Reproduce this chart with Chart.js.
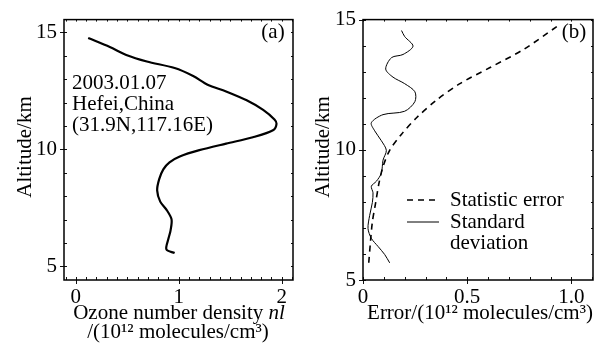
<!DOCTYPE html>
<html>
<head>
<meta charset="utf-8">
<script src="https://cdn.jsdelivr.net/npm/chart.js@4.4.1/dist/chart.umd.min.js"></script>
<style>
  html, body { margin: 0; padding: 0; background: #fff; }
  #wrap { position: relative; width: 601px; height: 343px; }
  canvas { position: absolute; top: 0; }
</style>
</head>
<body>
<div id="wrap">
  <canvas id="ca" width="300" height="343" style="left:0"></canvas>
  <canvas id="cb" width="301" height="343" style="left:300px"></canvas>
</div>
<script>
// ---------- Data ----------
// Panel (a): ozone number density profile
const altA  = [14.76, 14.38, 14.04, 13.76, 13.48, 13.14, 12.77, 12.48, 12.10, 11.69, 11.28, 11.10, 10.83, 10.52, 10.25, 9.97, 9.70, 9.45, 9.15, 8.73, 8.25, 7.77, 7.43, 7.01, 6.53, 6.19, 5.73, 5.57];
const ozone = [0.12, 0.33, 0.49, 0.69, 0.96, 1.14, 1.28, 1.46, 1.66, 1.82, 1.93, 1.95, 1.92, 1.72, 1.46, 1.20, 1.01, 0.91, 0.85, 0.81, 0.79, 0.82, 0.88, 0.93, 0.92, 0.90, 0.88, 0.96];

// Panel (b): statistic error
const altStat = [14.73, 13.85, 13.16, 12.54, 11.91, 11.23, 10.60, 9.98, 9.35, 8.73, 7.98, 7.23, 6.48, 5.60];
const statErr = [0.93, 0.77, 0.61, 0.465, 0.353, 0.257, 0.185, 0.128, 0.096, 0.077, 0.061, 0.045, 0.036, 0.027];

// Panel (b): standard deviation
const altStd = [14.58, 14.35, 13.98, 13.66, 13.54, 13.10, 12.79, 12.54, 12.23, 11.85, 11.48, 11.35, 11.04, 10.73, 10.35, 9.98, 9.60, 9.10, 8.79, 8.60, 8.35, 7.98, 7.48, 6.98, 6.60, 6.29, 5.98, 5.66];
const stdDev = [0.185, 0.20, 0.24, 0.192, 0.137, 0.109, 0.144, 0.20, 0.249, 0.249, 0.20, 0.096, 0.040, 0.056, 0.088, 0.112, 0.096, 0.088, 0.064, 0.040, 0.048, 0.045, 0.032, 0.024, 0.040, 0.072, 0.104, 0.128];

// Tick labels
const xTicksA = [0, 1, 2];
const yTicksA = [5, 10, 15];
const xTicksB = [0, 0.5, 1.0];
const yTicksB = [5, 10, 15];

// Texts
const annotA = ['2003.01.07', 'Hefei,China', '(31.9N,117.16E)'];
const legendLabels = ['Statistic error', 'Standard', 'deviation'];

// ---------- Helpers ----------
const FONT = "'Liberation Serif', 'Times New Roman', serif";
const FS = 21;
const toPts = (xs, ys) => xs.map((v, i) => ({ x: v, y: ys[i] }));

function range(a, b, s) { const r = []; for (let v = a; v <= b + 1e-9; v += s) r.push(+v.toFixed(4)); return r; }

function framePlugin(cfg) {
  return {
    id: 'frame',
    afterDatasetsDraw(chart) {
      const { ctx, chartArea: { left, right, top, bottom }, scales: { x, y } } = chart;
      ctx.save();
      ctx.strokeStyle = '#111';
      ctx.lineWidth = 1;
      ctx.beginPath();
      cfg.xMinor.forEach(v => {
        const p = Math.round(x.getPixelForValue(v)) + 0.5;
        if (p < left || p > right) return;
        ctx.moveTo(p, bottom); ctx.lineTo(p, bottom - 3);
        ctx.moveTo(p, top); ctx.lineTo(p, top + 2);
      });
      cfg.yMinor.forEach(v => {
        const p = Math.round(y.getPixelForValue(v)) + 0.5;
        if (p < top || p > bottom) return;
        ctx.moveTo(left, p); ctx.lineTo(left + 3, p);
        ctx.moveTo(right, p); ctx.lineTo(right - 2, p);
      });
      cfg.xMajor.forEach(v => {
        const p = Math.round(x.getPixelForValue(v)) + 0.5;
        ctx.moveTo(p, bottom - 3); ctx.lineTo(p, bottom + 4);
      });
      cfg.yMajor.forEach(v => {
        const p = Math.round(y.getPixelForValue(v)) + 0.5;
        ctx.moveTo(left - 4, p); ctx.lineTo(left + 3, p);
      });
      ctx.stroke();
      ctx.lineWidth = 1.5;
      ctx.strokeStyle = '#000';
      ctx.strokeRect(left, top, right - left, bottom - top);
      ctx.fillStyle = '#000';
      ctx.textBaseline = 'middle';
      cfg.draw(ctx, chart);
      ctx.restore();
    }
  };
}

function baseOptions(xmin, xmax, ymin, ymax, xt, yt, padRight, yWidth, xfmt) {
  return {
    responsive: false,
    animation: false,
    devicePixelRatio: 1,
    layout: { padding: { left: 0, right: padRight, top: 12, bottom: 0 } },
    plugins: { legend: { display: false }, tooltip: { enabled: false } },
    elements: { point: { radius: 0 } },
    scales: {
      x: {
        type: 'linear', min: xmin, max: xmax,
        grid: { display: false, drawTicks: false },
        border: { display: false },
        afterBuildTicks: s => { s.ticks = xt.map(v => ({ value: v })); },
        afterFit: s => { s.height = 63; },
        ticks: { padding: 5, color: '#000', font: { family: FONT, size: FS }, maxRotation: 0, autoSkip: false,
                 callback: v => xfmt(v) }
      },
      y: {
        type: 'linear', min: ymin, max: ymax,
        grid: { display: false, drawTicks: false },
        border: { display: false },
        afterBuildTicks: s => { s.ticks = yt.map(v => ({ value: v })); },
        afterFit: s => { s.width = yWidth; },
        ticks: { padding: 7, color: '#000', font: { family: FONT, size: FS }, autoSkip: false,
                 callback: v => String(v) }
      }
    }
  };
}

// ---------- Panel (a) ----------
new Chart(document.getElementById('ca'), {
  type: 'scatter',
  data: {
    datasets: [{
      data: toPts(ozone, altA),
      showLine: true, borderColor: '#000', borderWidth: 2.2, tension: 0.3, fill: false
    }]
  },
  options: baseOptions(-0.115, 2.11, 4.42, 15.55, xTicksA, yTicksA, 7, 64, v => String(v)),
  plugins: [framePlugin({
    xMinor: range(-0.1, 2.1, 0.1), yMinor: range(5, 15, 1),
    xMajor: xTicksA, yMajor: yTicksA,
    draw(ctx) {
      ctx.font = `${FS}px ${FONT}`;
      ctx.textAlign = 'left';
      annotA.forEach((t, i) => ctx.fillText(t, 72, 83 + i * 21));
      ctx.textAlign = 'center';
      ctx.fillText('(a)', 273, 32);
      ctx.save();
      ctx.translate(25, 147);
      ctx.rotate(-Math.PI / 2);
      ctx.fillText('Altitude/km', 0, 0);
      ctx.restore();
      const p1 = 'Ozone number density ';
      ctx.font = `${FS}px ${FONT}`;
      const w1 = ctx.measureText(p1).width;
      ctx.font = `italic ${FS}px ${FONT}`;
      const w2 = ctx.measureText('nl').width;
      const x0 = 179 - (w1 + w2) / 2;
      ctx.textAlign = 'left';
      ctx.font = `${FS}px ${FONT}`;
      ctx.fillText(p1, x0, 313);
      ctx.font = `italic ${FS}px ${FONT}`;
      ctx.fillText('nl', x0 + w1, 313);
      ctx.font = `${FS}px ${FONT}`;
      ctx.textAlign = 'center';
      ctx.fillText('/(10¹² molecules/cm³)', 178, 332);
    }
  })]
});

// ---------- Panel (b) ----------
new Chart(document.getElementById('cb'), {
  type: 'scatter',
  data: {
    datasets: [
      { data: toPts(statErr, altStat), showLine: true, borderColor: '#000', borderWidth: 1.6,
        borderDash: [6, 5], tension: 0.3, fill: false },
      { data: toPts(stdDev, altStd), showLine: true, borderColor: '#000', borderWidth: 1,
        tension: 0.3, fill: false }
    ]
  },
  options: baseOptions(0, 1.104, 5, 15, xTicksB, yTicksB, 8, 63, v => (v === 0 ? '0' : v.toFixed(1))),
  plugins: [framePlugin({
    xMinor: range(0, 1.1, 0.1), yMinor: range(5, 15, 1),
    xMajor: xTicksB, yMajor: yTicksB,
    draw(ctx) {
      ctx.font = `${FS}px ${FONT}`;
      ctx.textAlign = 'center';
      ctx.fillText('(b)', 274, 32);
      ctx.save();
      ctx.lineWidth = 1.6;
      ctx.setLineDash([6, 5]);
      ctx.beginPath(); ctx.moveTo(107, 200); ctx.lineTo(139, 200); ctx.stroke();
      ctx.setLineDash([]);
      ctx.lineWidth = 1;
      ctx.beginPath(); ctx.moveTo(107, 222); ctx.lineTo(139, 222); ctx.stroke();
      ctx.restore();
      ctx.textAlign = 'left';
      ctx.fillText(legendLabels[0], 150, 200);
      ctx.fillText(legendLabels[1], 150, 222);
      ctx.fillText(legendLabels[2], 150, 243);
      ctx.save();
      ctx.translate(23, 147);
      ctx.rotate(-Math.PI / 2);
      ctx.textAlign = 'center';
      ctx.fillText('Altitude/km', 0, 0);
      ctx.restore();
      ctx.textAlign = 'center';
      ctx.fillText('Error/(10¹² molecules/cm³)', 180, 313);
    }
  })]
});
</script>
</body>
</html>
